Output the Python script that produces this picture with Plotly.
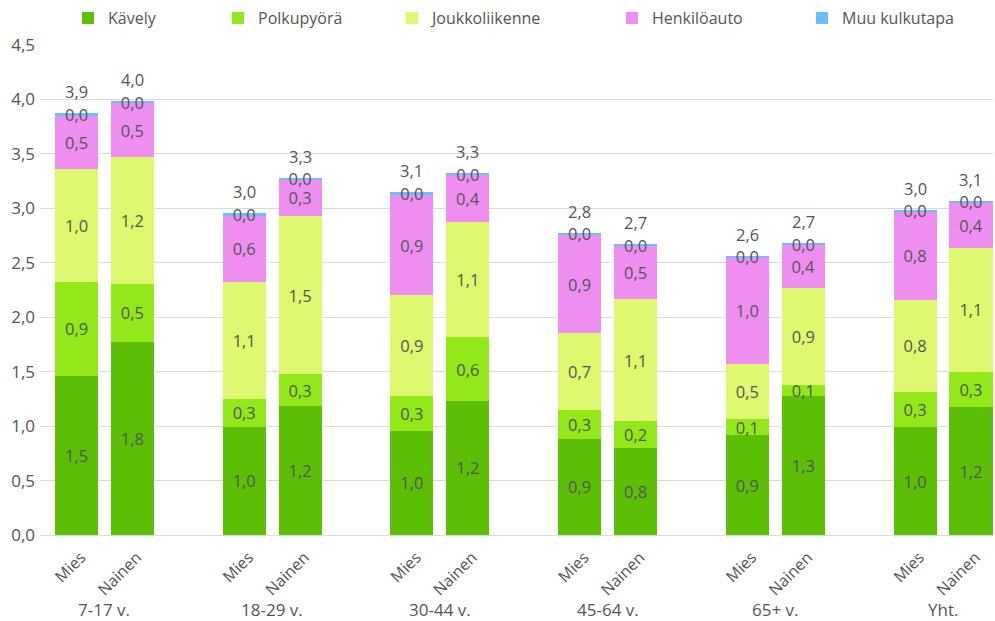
import plotly.graph_objects as go

groups = ["7-17 v.", "18-29 v.", "30-44 v.", "45-64 v.", "65+ v.", "Yht."]
genders = ["Mies", "Nainen"]

# values per bar, order: (group, gender) -> Mies, Nainen for each group
kavely = [1.46, 1.775, 0.995, 1.185, 0.958, 1.233, 0.882, 0.802, 0.918, 1.276, 0.99, 1.173]
polkupyora = [0.866, 0.53, 0.254, 0.293, 0.318, 0.582, 0.266, 0.245, 0.144, 0.104, 0.326, 0.327]
joukkoliikenne = [1.032, 1.169, 1.077, 1.452, 0.928, 1.055, 0.704, 1.12, 0.508, 0.885, 0.84, 1.138]
henkiloauto = [0.499, 0.49, 0.606, 0.337, 0.918, 0.441, 0.903, 0.49, 0.983, 0.401, 0.817, 0.417]
muu = [0.015, 0.024, 0.022, 0.015, 0.025, 0.012, 0.021, 0.012, 0.012, 0.013, 0.016, 0.015]

series = [
    ("Kävely", kavely, "#5cbf05"),
    ("Polkupyörä", polkupyora, "#93e819"),
    ("Joukkoliikenne", joukkoliikenne, "#def86f"),
    ("Henkilöauto", henkiloauto, "#ef8ef1"),
    ("Muu kulkutapa", muu, "#6cbff5"),
]

FONT = "Open Sans"
TXT = "#555555"

xpos = []
ticktext = []
for gi, g in enumerate(groups):
    for si, s in enumerate(genders):
        xpos.append(gi * 3 + (-0.5 if si == 0 else 0.5))
        ticktext.append(s)

fig = go.Figure()
legend_names = ["legend", "legend2", "legend3", "legend4", "legend5"]
for i, (name, vals, col) in enumerate(series):
    fig.add_trace(go.Bar(
        x=xpos, y=vals, name=name, width=0.77,
        marker=dict(color=col, line=dict(width=0)),
        texttemplate="%{y:.1f}", textposition="inside",
        insidetextanchor="middle", constraintext="none",
        textangle=0,
        insidetextfont=dict(family=FONT, size=16.5, color=TXT),
        legend=legend_names[i],
        hoverinfo="skip",
    ))

totals = [sum(v) for v in zip(kavely, polkupyora, joukkoliikenne, henkiloauto, muu)]
annotations = []
for x, t in zip(xpos, totals):
    annotations.append(dict(
        x=x, y=t, xref="x", yref="y", text=f"{t:.1f}".replace(".", ","),
        showarrow=False, yanchor="bottom", yshift=8,
        font=dict(family=FONT, size=16.5, color=TXT),
    ))
for gi, g in enumerate(groups):
    annotations.append(dict(
        x=gi * 3, y=-0.153, xref="x", yref="paper", text=g,
        showarrow=False, yanchor="middle",
        font=dict(family=FONT, size=17, color=TXT),
    ))

# legend text starts (px): 108, 258, 432, 652, 842 ; plot left = 40, width = 953
text_starts = [108, 258, 432, 652, 842]
legend_layout = {}
for ln, ts in zip(legend_names, text_starts):
    legend_layout[ln] = dict(
        x=(ts - 40 - 40) / 953, y=1.055, xanchor="left", yanchor="middle",
        orientation="h", font=dict(family=FONT, size=16, color=TXT),
        bgcolor="rgba(0,0,0,0)",
    )

fig.update_layout(
    width=995, height=621,
    margin=dict(l=40, r=2, t=45, b=86, autoexpand=False),
    paper_bgcolor="white", plot_bgcolor="white",
    barmode="stack",
    separators=", ",
    font=dict(family=FONT, size=16, color=TXT),
    showlegend=True,
    annotations=annotations,
    xaxis=dict(
        range=[-1.153, 15.894], tickmode="array",
        tickvals=[x + 0.08 for x in xpos], ticktext=ticktext,
        tickangle=-45, showgrid=False, zeroline=False, showline=False,
        ticks="", ticklabelstandoff=9, automargin=False,
        tickfont=dict(family=FONT, size=16, color=TXT),
    ),
    yaxis=dict(
        range=[0, 4.5], tick0=0, dtick=0.5, tickformat=".1f",
        showgrid=True, gridcolor="#d9d9d9", gridwidth=1,
        zeroline=True, zerolinecolor="#d9d9d9", zerolinewidth=1,
        showline=False, ticks="", ticklabelstandoff=4, automargin=False,
        tickfont=dict(family=FONT, size=17, color=TXT),
    ),
    **legend_layout,
)

fig.write_html("out.html", config={"displayModeBar": False},
               post_script="document.body.style.margin='0';")
